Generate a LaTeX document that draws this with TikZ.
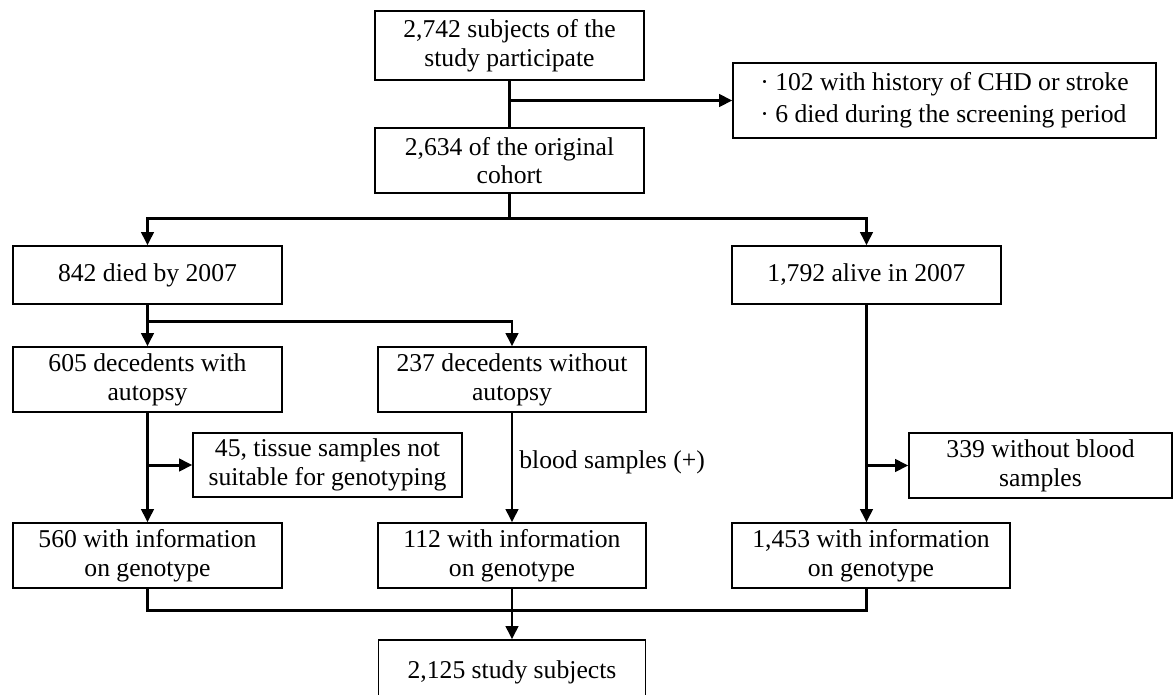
\documentclass[tikz,border=0pt]{standalone}
\usepackage{fontspec}
\setmainfont{Liberation Serif}
\usetikzlibrary{arrows.meta}

\begin{document}
\begin{tikzpicture}[x=0.02cm, y=-0.02cm,
    stage/.style={draw, line width=0.8pt, inner sep=2pt, align=center,
        font=\fontsize{14.6}{16.4}\selectfont},
    link/.style={line width=1.7pt},
    feed/.style={line width=1.7pt, -{Triangle[length=7.5pt, width=7pt]}}]
    \useasboundingbox (0,0) rectangle (1174,694);
    % Enrolment and exclusions
    \node[stage, minimum width=5.38cm, minimum height=1.38cm] (enrol) at (509.5,45.5)
        {2,742 subjects of the\\study participate};
    \node[stage, minimum width=8.46cm, minimum height=1.5cm, align=left,
        font=\fontsize{14.6}{18.2}\selectfont] (excl) at (944.5,100.5)
        {· 102 with history of CHD or stroke\\· 6 died during the screening period};
    \node[stage, minimum width=5.38cm, minimum height=1.3cm] (cohort) at (509.5,160.5)
        {2,634 of the original\\cohort};
    % Vital status in 2007
    \node[stage, minimum width=5.38cm, minimum height=1.16cm] (died) at (147.5,275) {842 died by 2007};
    \node[stage, minimum width=5.38cm, minimum height=1.16cm] (alive) at (866.5,275) {1,792 alive in 2007};
    % Decedents
    \node[stage, minimum width=5.38cm, minimum height=1.3cm] (autopsy) at (147.5,379.5)
        {605 decedents with\\autopsy};
    \node[stage, minimum width=5.36cm, minimum height=1.3cm] (noautopsy) at (512,379.5)
        {237 decedents without\\autopsy};
    \node[stage, minimum width=5.38cm, minimum height=1.28cm] (tissue) at (327.5,465)
        {45, tissue samples not\\suitable for genotyping};
    \node[stage, minimum width=5.26cm, minimum height=1.3cm] (noblood) at (1040.5,465.5)
        {339 without blood\\samples};
    % Genotyped
    \node[stage, minimum width=5.38cm, minimum height=1.3cm] (geno560) at (147.5,555.5)
        {560 with information\\on genotype};
    \node[stage, minimum width=5.36cm, minimum height=1.3cm] (geno112) at (512,555.5)
        {112 with information\\on genotype};
    \node[stage, minimum width=5.56cm, minimum height=1.3cm] (geno1453) at (871,555.5)
        {1,453 with information\\on genotype};
    \node[stage, minimum width=5.34cm, minimum height=1.28cm] (final) at (512,672)
        {2,125 study subjects};
    % Connectors
    \draw[link] (enrol) -- (cohort);
    \draw[feed] (enrol.south |- excl.west) -- (excl);
    \coordinate (split) at (509.5,218);
    \draw[link] (cohort) -- (split);
    \draw[feed] (split) -| (died);
    \draw[feed] (split) -| (alive);
    \coordinate (fork) at (147.5,321);
    \draw[link] (died) -- (fork);
    \draw[feed] (fork) -- (autopsy);
    \draw[feed] (fork) -| (noautopsy);
    \draw[feed] (autopsy) -- (geno560);
    \draw[feed] (autopsy.south |- tissue.west) -- (tissue);
    \draw[feed] (noautopsy) -- node[right, pos=0.45, font=\fontsize{14.6}{16.4}\selectfont] (bloodlbl)
        {blood samples (+)} (geno112);
    \draw[feed] (alive) -- (alive.south |- geno1453.north);
    \draw[feed] (alive.south |- noblood.west) -- (noblood);
    \coordinate (merge) at (512,610);
    \draw[link] (geno560) |- (merge);
    \draw[link] (alive.south |- geno1453.south) |- (merge);
    \draw[link] (geno112) -- (merge);
    \draw[feed] (merge) -- (final);
\end{tikzpicture}
\end{document}
